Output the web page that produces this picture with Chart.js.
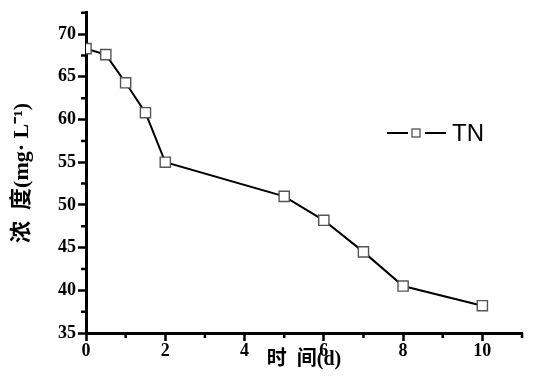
<!DOCTYPE html>
<html>
<head>
<meta charset="utf-8">
<script src="https://cdn.jsdelivr.net/npm/chart.js@4"></script>
<style>
  html, body { margin: 0; padding: 0; background: #fff; }
  #wrap { width: 552px; height: 385px; }
</style>
</head>
<body>
<div id="wrap"><canvas id="myChart"></canvas></div>
<script>
// time (d) and TN concentration (mg/L)
var days = [0, 0.5, 1, 1.5, 2, 5, 6, 7, 8, 10];
var tn = [68.3, 67.6, 64.3, 60.8, 55.0, 51.0, 48.2, 44.5, 40.5, 38.2];
var xTicks = [0, 2, 4, 6, 8, 10];
var xMinor = [1, 3, 5, 7, 9, 11];
var yTicks = [35, 40, 45, 50, 55, 60, 65, 70];
var yMinor = [37.5, 42.5, 47.5, 52.5, 57.5, 62.5, 67.5, 72.5];
var seriesName = 'TN';

var points = days.map(function (d, i) { return {x: d, y: tn[i]}; });

// minor ticks + legend drawn by hand
var extras = {
  id: 'extras',
  afterDraw: function (chart) {
    var c = chart.ctx;
    var xs = chart.scales.x, ys = chart.scales.y;
    var area = chart.chartArea;
    c.save();
    c.strokeStyle = '#000';
    c.lineWidth = 2.5;
    c.beginPath();
    xMinor.forEach(function (v) {
      var px = xs.getPixelForValue(v);
      c.moveTo(px, area.bottom);
      c.lineTo(px, area.bottom + 5);
    });
    yMinor.forEach(function (v) {
      var py = ys.getPixelForValue(v);
      c.moveTo(area.left, py);
      c.lineTo(area.left - 5, py);
    });
    c.stroke();

    // legend
    var ly = 133;
    c.lineWidth = 2;
    c.beginPath();
    c.moveTo(387, ly); c.lineTo(408, ly);
    c.moveTo(425, ly); c.lineTo(446, ly);
    c.stroke();
    c.fillStyle = '#fff';
    c.strokeStyle = '#555';
    c.lineWidth = 1.3;
    c.fillRect(412, ly - 4, 8, 8);
    c.strokeRect(412, ly - 4, 8, 8);
    c.fillStyle = '#000';
    c.font = '24px "Liberation Sans", Arial, sans-serif';
    c.textBaseline = 'middle';
    c.fillText(seriesName, 452, ly + 1);
    c.restore();
  }
};

var ctx = document.getElementById('myChart').getContext('2d');
var myChart = new Chart(ctx, {
  type: 'scatter',
  data: {
    datasets: [{
      label: seriesName,
      data: points,
      showLine: true,
      borderColor: '#000000',
      borderWidth: 2,
      pointStyle: 'rect',
      pointRadius: 7.2,
      pointBackgroundColor: '#ffffff',
      pointBorderColor: '#555555',
      pointBorderWidth: 1.4,
      clip: 0
    }]
  },
  options: {
    responsive: true,
    maintainAspectRatio: false,
    animation: false,
    events: [],
    layout: { padding: { left: 0, right: 30, top: 8, bottom: 0 } },
    plugins: { legend: { display: false }, tooltip: { enabled: false } },
    scales: {
      x: {
        type: 'linear',
        min: 0,
        max: 11,
        afterBuildTicks: function (s) { s.ticks = xTicks.map(function (v) { return {value: v}; }); },
        afterFit: function (s) { s.height = 52; },
        border: { display: true, color: '#000', width: 3 },
        grid: { drawOnChartArea: false, drawTicks: true, tickLength: 8, tickWidth: 2.5, tickColor: '#000' },
        ticks: {
          color: '#000',
          padding: 0,
          maxRotation: 0,
          font: { family: '"Liberation Serif", "Times New Roman", serif', size: 18, weight: 'bold' }
        },
        title: {
          display: true,
          text: '时  间(d)',
          color: '#000',
          padding: { top: 0, bottom: 13 },
          font: { family: '"Liberation Serif", "Noto Sans CJK SC", serif', size: 20, weight: 'bold' }
        }
      },
      y: {
        type: 'linear',
        min: 35,
        max: 72.5,
        afterBuildTicks: function (s) { s.ticks = yTicks.map(function (v) { return {value: v}; }); },
        afterFit: function (s) { s.width = 86; },
        border: { display: true, color: '#000', width: 3 },
        grid: { drawOnChartArea: false, drawTicks: true, tickLength: 8, tickWidth: 2.5, tickColor: '#000' },
        ticks: {
          color: '#000',
          padding: 2,
          font: { family: '"Liberation Serif", "Times New Roman", serif', size: 18, weight: 'bold' }
        },
        title: {
          display: true,
          text: '浓  度(mg· L⁻¹)',
          color: '#000',
          padding: { top: 9, bottom: 0 },
          font: { family: '"Liberation Serif", "Noto Sans CJK SC", serif', size: 22, weight: 'bold' }
        }
      }
    }
  },
  plugins: [extras]
});
</script>
</body>
</html>
